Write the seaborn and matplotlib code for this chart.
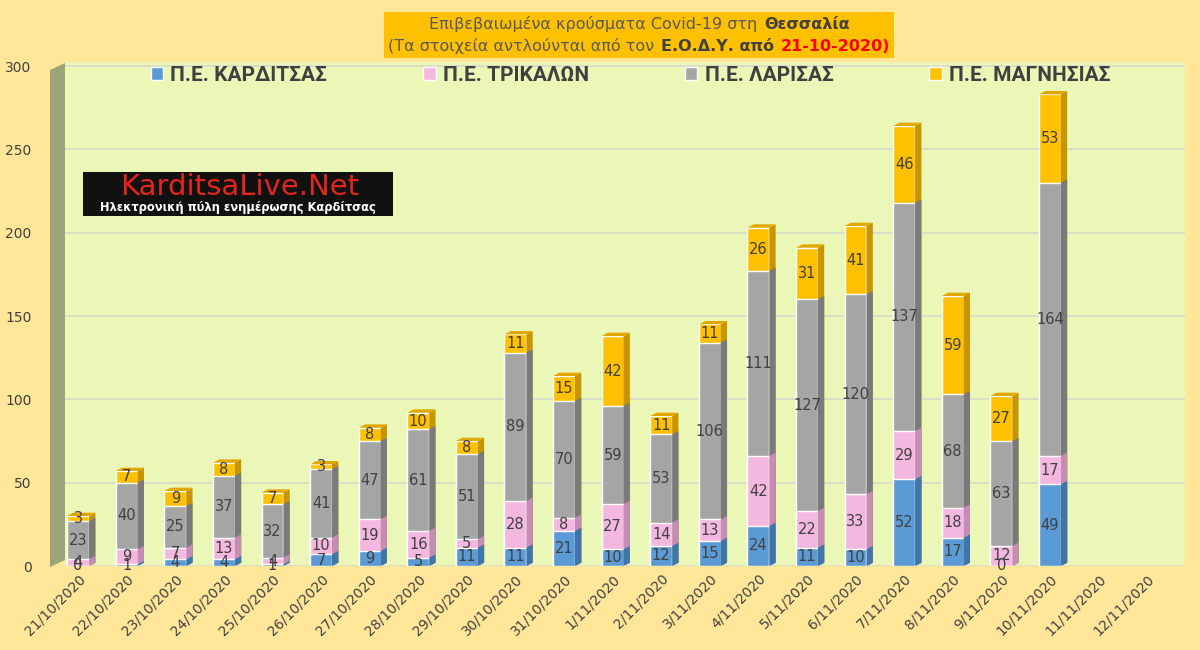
import numpy as np
import pandas as pd
import matplotlib
matplotlib.use("Agg")
import matplotlib.pyplot as plt
import seaborn as sns
from matplotlib.patches import Polygon, Rectangle
from matplotlib.offsetbox import TextArea, HPacker, VPacker, AnchoredOffsetbox

# Données
dates = ["21/10/2020", "22/10/2020", "23/10/2020", "24/10/2020", "25/10/2020",
         "26/10/2020", "27/10/2020", "28/10/2020", "29/10/2020", "30/10/2020",
         "31/10/2020", "1/11/2020", "2/11/2020", "3/11/2020", "4/11/2020",
         "5/11/2020", "6/11/2020", "7/11/2020", "8/11/2020", "9/11/2020",
         "10/11/2020", "11/11/2020", "12/11/2020"]
karditsa = [0, 1, 4, 4, 1, 7, 9, 5, 11, 11, 21, 10, 12, 15, 24, 11, 10, 52, 17, 0, 49, np.nan, np.nan]
trikala = [4, 9, 7, 13, 4, 10, 19, 16, 5, 28, 8, 27, 14, 13, 42, 22, 33, 29, 18, 12, 17, np.nan, np.nan]
larisa = [23, 40, 25, 37, 32, 41, 47, 61, 51, 89, 70, 59, 53, 106, 111, 127, 120, 137, 68, 63, 164, np.nan, np.nan]
magnesia = [3, 7, 9, 8, 7, 3, 8, 10, 8, 11, 15, 42, 11, 11, 26, 31, 41, 46, 59, 27, 53, np.nan, np.nan]

series_names = ["Π.Ε. ΚΑΡΔΙΤΣΑΣ", "Π.Ε. ΤΡΙΚΑΛΩΝ", "Π.Ε. ΛΑΡΙΣΑΣ", "Π.Ε. ΜΑΓΝΗΣΙΑΣ"]
colors = ["#5B9BD5", "#F4B8E0", "#A5A5A5", "#FFC000"]
side_colors = ["#3F75A8", "#C68DB4", "#7A7A7A", "#C79500"]
y_ticks = [0, 50, 100, 150, 200, 250, 300]

df = pd.DataFrame({"date": dates,
                   series_names[0]: karditsa,
                   series_names[1]: trikala,
                   series_names[2]: larisa,
                   series_names[3]: magnesia})

fig_bg = "#FFE699"
plot_bg = "#EBF7B6"
txt = "#404040"

sns.set_theme(style="white")
plt.rcParams["font.family"] = ["DejaVu Sans"]

fig = plt.figure(figsize=(12, 6.5), dpi=100, facecolor=fig_bg)
ax = fig.add_axes([65 / 1200, 1 - 566 / 650, 1120 / 1200, 504 / 650])
ax.set_facecolor(plot_bg)

# Barres empilées : on dessine les cumuls du plus grand au plus petit,
# avec une face latérale plus sombre pour l'effet 3D
depth_x, depth_y = 0.13, 2.0
cum = df[series_names].cumsum(axis=1)
for k, i in enumerate(range(len(series_names) - 1, -1, -1)):
    n_before = len(ax.patches)
    sns.barplot(x=df["date"], y=cum[series_names[i]], color=colors[i],
                width=0.45, saturation=1, ax=ax, label=series_names[i],
                order=dates, zorder=3 + 2 * k)
    for p in ax.patches[n_before:]:
        h = p.get_height()
        if not np.isfinite(h) or h <= 0:
            continue
        x0, w = p.get_x(), p.get_width()
        side = Polygon([(x0 + w, 0), (x0 + w + depth_x, depth_y),
                        (x0 + w + depth_x, h + depth_y), (x0 + w, h)],
                       closed=True, facecolor=side_colors[i], edgecolor="none",
                       zorder=4 + 2 * k)
        ax.add_patch(side)
        if k == 0:
            top = Polygon([(x0, h), (x0 + depth_x, h + depth_y),
                           (x0 + w + depth_x, h + depth_y), (x0 + w, h)],
                          closed=True, facecolor="#E0A800", edgecolor="none",
                          zorder=4)
            ax.add_patch(top)

# Étiquettes des valeurs
for j in range(len(dates)):
    base = 0
    for name in series_names:
        v = df[name].iloc[j]
        if np.isnan(v):
            continue
        ax.text(j, base + v / 2, f"{int(v)}", ha="center", va="center",
                fontsize=10.5, color=txt, zorder=20)
        base += v

ax.set_xlim(-0.27, 22.78)
ax.set_ylim(0, 302.4)
ax.set_yticks(y_ticks)
ax.yaxis.grid(True, color="#D6D9C8", linewidth=1.2, zorder=0)
ax.set_axisbelow(True)
ax.set_xlabel("")
ax.set_ylabel("")
for s in ax.spines.values():
    s.set_visible(False)
ax.tick_params(axis="y", length=0, pad=24, labelsize=10, labelcolor=txt)
ax.tick_params(axis="x", length=0, pad=4, labelsize=10, labelcolor=txt)
plt.setp(ax.get_xticklabels(), rotation=45, ha="right", rotation_mode="anchor")

# Légende
handles, labels = ax.get_legend_handles_labels()
order = [labels.index(n) for n in series_names]
leg = ax.legend([handles[k] for k in order], [labels[k] for k in order],
                ncol=4, loc="upper center", bbox_to_anchor=(0.505, 1.03),
                frameon=False, handlelength=0.6, handleheight=0.6,
                handletextpad=0.35, columnspacing=4.6,
                prop={"family": ["Roboto", "DejaVu Sans"],
                      "weight": "bold", "size": 15})
for t in leg.get_texts():
    t.set_color(txt)

# Mur 3D à gauche
wall = Polygon([(50, 650 - 70), (65, 650 - 63), (65, 650 - 560), (50, 650 - 567)],
               closed=True, facecolor="#9CA57A", edgecolor="none",
               transform=None, zorder=1)
fig.patches.append(wall)

# Titre dans un encadré orange
norm = {"color": "#595959", "size": 11.5}
bold = {"color": "#404040", "size": 11.5, "weight": "bold"}
red = {"color": "#FF0000", "size": 11.5, "weight": "bold"}
line1 = HPacker(children=[TextArea("Επιβεβαιωμένα κρούσματα Covid-19 στη", textprops=norm),
                          TextArea("Θεσσαλία", textprops=bold)],
                align="baseline", pad=0, sep=5)
line2 = HPacker(children=[TextArea("(Τα στοιχεία αντλούνται από τον", textprops=norm),
                          TextArea("Ε.Ο.Δ.Υ. από", textprops=bold),
                          TextArea("21-10-2020)", textprops=red)],
                align="baseline", pad=0, sep=5)
title_box = VPacker(children=[line1, line2], align="center", pad=0, sep=5)
anchored = AnchoredOffsetbox(loc="center", child=title_box, pad=0.25, frameon=True,
                             bbox_to_anchor=(639 / 1200, 1 - 35 / 650),
                             bbox_transform=fig.transFigure, borderpad=0)
anchored.patch.set_facecolor("#FFC000")
anchored.patch.set_edgecolor("none")
anchored.patch.set_boxstyle("square", pad=0)
fig.add_artist(anchored)

# Logo
fig.patches.append(Rectangle((83 / 1200, 1 - 216 / 650), 310 / 1200, 44 / 650,
                             transform=fig.transFigure, facecolor="#111111",
                             edgecolor="none", zorder=6))
fig.text(240 / 1200, 1 - 187 / 650, "KarditsaLive.Net", ha="center", va="center",
         color="#E3261C", fontsize=21, zorder=7)
fig.text(238 / 1200, 1 - 207 / 650, "Ηλεκτρονική πύλη ενημέρωσης Καρδίτσας",
         ha="center", va="center", color="white", fontsize=8.3, weight="bold", zorder=7)

fig.savefig("out.png", dpi=100, facecolor=fig_bg)
